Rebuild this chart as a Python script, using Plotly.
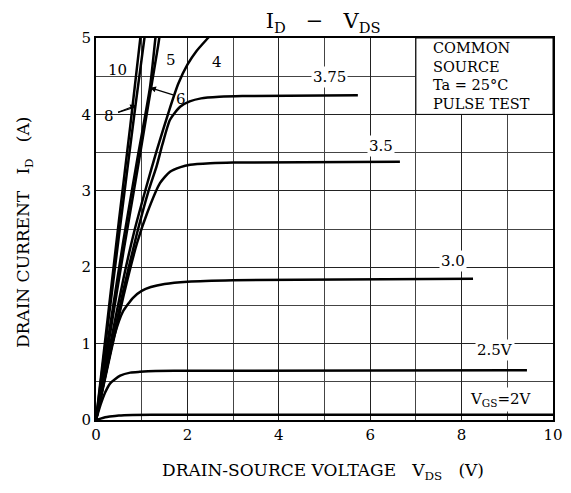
import plotly.graph_objects as go

# ---- data ----
v10_x = [0, 0.25, 0.5, 0.75, 0.97, 1.0]
v10_y = [0, 1.3, 2.6, 3.85, 5.0, 5.15]
v8_x = [0, 0.25, 0.5, 0.86, 1.06, 1.09]
v8_y = [0, 1.2, 2.4, 4.1, 5.0, 5.15]
v6_x = [0, 0.3, 0.6, 0.9, 1.18, 1.3, 1.33]
v6_y = [0, 1.2, 2.35, 3.4, 4.35, 5.0, 5.15]
v5_x = [0, 0.3, 0.6, 0.9, 1.15, 1.36, 1.42]
v5_y = [0, 1.1, 2.2, 3.25, 4.15, 4.9, 5.15]
v4_x = [0, 0.3, 0.6, 0.85, 1.1, 1.33, 1.6, 1.8, 2.0, 2.2, 2.45, 2.6]
v4_y = [0, 0.95, 1.85, 2.5, 3.05, 3.53, 4.05, 4.4, 4.65, 4.83, 5.0, 5.1]
v375_x = [0, 0.3, 0.6, 0.9, 1.15, 1.33, 1.45, 1.62, 1.84, 2.05, 2.3, 2.7, 3.2, 5.73]
v375_y = [0, 0.85, 1.7, 2.45, 3.0, 3.33, 3.6, 3.93, 4.1, 4.17, 4.21, 4.23, 4.24, 4.25]
v35_x = [0, 0.3, 0.6, 0.9, 1.12, 1.4, 1.62, 1.85, 2.06, 2.5, 3.0, 6.65]
v35_y = [0, 0.82, 1.62, 2.32, 2.71, 3.1, 3.25, 3.31, 3.34, 3.36, 3.37, 3.38]
v30_x = [0, 0.2, 0.4, 0.59, 0.81, 1.0, 1.2, 1.5, 2.0, 3.0, 8.25]
v30_y = [0, 0.58, 1.1, 1.42, 1.6, 1.69, 1.74, 1.78, 1.81, 1.83, 1.85]
v25_x = [0, 0.1, 0.2, 0.31, 0.53, 0.75, 0.96, 1.3, 2.0, 9.43]
v25_y = [0, 0.2, 0.36, 0.48, 0.58, 0.62, 0.63, 0.64, 0.645, 0.65]
v2_x = [0, 0.1, 0.2, 0.3, 0.5, 0.8, 1.5, 10]
v2_y = [0, 0.018, 0.035, 0.045, 0.06, 0.067, 0.07, 0.07]

x_ticks = [0, 2, 4, 6, 8, 10]
y_ticks = [0, 1, 2, 3, 4, 5]
condition_lines = ["COMMON", "SOURCE", "Ta = 25°C", "PULSE TEST"]

curves = [(v10_x, v10_y), (v8_x, v8_y), (v6_x, v6_y), (v5_x, v5_y), (v4_x, v4_y),
          (v375_x, v375_y), (v35_x, v35_y), (v30_x, v30_y), (v25_x, v25_y), (v2_x, v2_y)]

SERIF = "DejaVu Serif, Liberation Serif, serif"
SP = "&nbsp;"

fig = go.Figure()
for cx, cy in curves:
    fig.add_trace(go.Scatter(x=cx, y=cy, mode="lines",
                             line=dict(color="black", width=2.5, shape="spline", smoothing=0.6),
                             showlegend=False, hoverinfo="skip"))

# curve labels
for t, lx, ly in [("10", 0.48, 4.58), ("5", 1.64, 4.71), ("4", 2.65, 4.69)]:
    fig.add_annotation(x=lx, y=ly, text=t, showarrow=False,
                       font=dict(family=SERIF, size=15, color="black"))

for t, lx, ly in [("3.75", 5.12, 4.49), ("3.5", 6.24, 3.58), ("3.0", 7.81, 2.08), ("2.5V", 8.73, 0.92)]:
    fig.add_annotation(x=lx, y=ly, text=t, showarrow=False, bgcolor="white", borderpad=1,
                       font=dict(family=SERIF, size=15, color="black"))

fig.add_annotation(x=8.86, y=0.27, text="V<sub>GS</sub>=2V", showarrow=False, bgcolor="white",
                   borderpad=2, font=dict(family=SERIF, size=15, color="black"))

# arrow labels
fig.add_annotation(x=1.18, y=4.35, ax=1.72, ay=4.25, axref="x", ayref="y", text="",
                   showarrow=True, arrowhead=2, arrowsize=1, arrowwidth=1.2, arrowcolor="black")
fig.add_annotation(x=1.86, y=4.2, text="6", showarrow=False,
                   font=dict(family=SERIF, size=15, color="black"))
fig.add_annotation(x=0.88, y=4.12, ax=0.45, ay=4.02, axref="x", ayref="y", text="",
                   showarrow=True, arrowhead=2, arrowsize=1, arrowwidth=1.2, arrowcolor="black")
fig.add_annotation(x=0.78, y=4.08, ax=0.45, ay=4.02, axref="x", ayref="y", text="",
                   showarrow=True, arrowhead=0, arrowwidth=1.2, arrowcolor="black")
fig.add_annotation(x=0.29, y=3.98, text="8", showarrow=False,
                   font=dict(family=SERIF, size=15, color="black"))

# condition box
fig.add_shape(type="rect", x0=7, x1=10, y0=4, y1=5, xref="x", yref="y",
              fillcolor="white", line=dict(color="black", width=1), layer="between")
for i, line in enumerate(condition_lines):
    fig.add_annotation(x=7.36, y=4.87 - i * 0.245, xanchor="left", yanchor="middle",
                       text=line, showarrow=False, borderpad=0,
                       font=dict(family=SERIF, size=14.5, color="black"))

# axis titles (placed as annotations for exact control)
fig.add_annotation(xref="paper", yref="paper", x=0.497, y=-0.136,
                   text="DRAIN-SOURCE VOLTAGE" + SP * 3 + "V<sub>DS</sub>" + SP * 3 + "(V)",
                   showarrow=False, yanchor="middle",
                   font=dict(family=SERIF, size=17, color="black"))
fig.add_annotation(xref="paper", yref="paper", x=-0.1575, y=0.492, textangle=-90,
                   text="DRAIN CURRENT" + SP * 3 + "I<sub>D</sub>" + SP * 3 + "(A)",
                   showarrow=False, xanchor="center", yanchor="middle",
                   font=dict(family=SERIF, size=17, color="black"))

fig.update_layout(
    width=555, height=477,
    margin=dict(l=88, r=10, t=30, b=65, autoexpand=False),
    paper_bgcolor="white", plot_bgcolor="white",
    title=dict(text="I<sub>D</sub>" + SP * 3 + "−" + SP * 3 + "V<sub>DS</sub>",
               x=0.497, xref="paper", xanchor="center",
               y=0.973, yanchor="middle",
               font=dict(family=SERIF, size=21, color="black")),
    font=dict(family=SERIF, color="black"),
)
fig.update_xaxes(range=[0, 10], tickvals=x_ticks, ticktext=[str(v) for v in x_ticks],
                 showline=True, linecolor="black", linewidth=2, mirror=True, automargin=False,
                 showgrid=True, gridcolor="#222", gridwidth=1, zeroline=False,
                 ticks="", tickfont=dict(family=SERIF, size=15),
                 minor=dict(dtick=1, showgrid=True, gridcolor="#444", gridwidth=1))
fig.update_yaxes(range=[0, 5], tickvals=y_ticks, ticktext=[str(v) for v in y_ticks],
                 showline=True, linecolor="black", linewidth=2, mirror=True, automargin=False,
                 showgrid=True, gridcolor="#222", gridwidth=1, zeroline=False,
                 ticks="", tickfont=dict(family=SERIF, size=15), ticklabelstandoff=0,
                 minor=dict(dtick=0.5, showgrid=True, gridcolor="#444", gridwidth=1))

fig.write_html("out.html")
